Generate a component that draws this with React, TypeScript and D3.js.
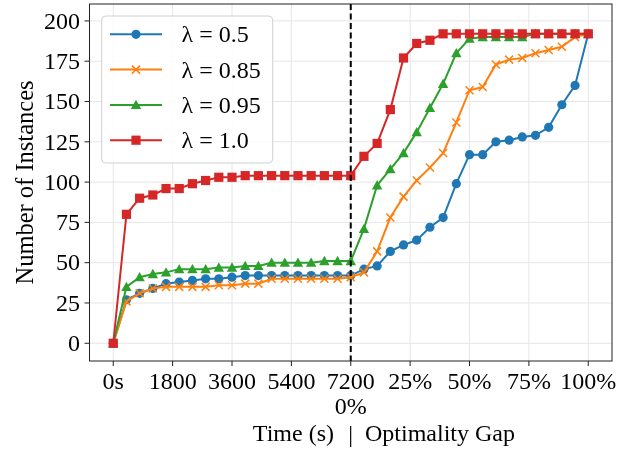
import React from "react";
import * as d3 from "d3";

const xTickPos = [0, 4.5, 9, 13.5, 18, 22.5, 27, 31.5, 36];
const xTickLabels = ["0s", "1800", "3600", "5400", "7200\n0%", "25%", "50%", "75%", "100%"];
const yTicks = [0, 25, 50, 75, 100, 125, 150, 175, 200];
const switchIndex = 18;

const blue = [0, 27, 31, 34, 37, 38, 39, 40, 40, 41, 42, 42, 42, 42, 42, 42, 42, 42, 42,
  46, 48, 57, 61, 64, 72, 78, 99, 117, 117, 125, 126, 128, 129, 134, 148, 160, 192];
const orange = [0, 26, 31, 34, 35, 35, 35, 35, 36, 36, 37, 37, 40, 40, 40, 40, 40, 40, 41,
  44, 57, 78, 91, 101, 109, 118, 137, 157, 159, 173, 176, 177, 180, 182, 184, 190, 192];
const green = [0, 35, 41, 43, 44, 46, 46, 46, 47, 47, 48, 48, 50, 50, 50, 50, 51, 51, 51,
  71, 98, 108, 118, 131, 146, 161, 180, 189, 190, 190, 190, 190, 192, 192, 192, 192, 192];
const red = [0, 80, 90, 92, 96, 96, 99, 101, 103, 103, 104, 104, 104, 104, 104, 104, 104, 104, 104,
  116, 124, 145, 177, 186, 188, 192, 192, 192, 192, 192, 192, 192, 192, 192, 192, 192, 192];

const seriesLabels = ["λ = 0.5", "λ = 0.85", "λ = 0.95", "λ = 1.0"];
const seriesColors = ["#1f77b4", "#ff7f0e", "#2ca02c", "#d62728"];
const seriesMarkers = ["circle", "x", "triangle", "square"];
const seriesValues = [blue, orange, green, red];

const W = 635, H = 451;
const L = 89.5, R = 612, T = 4, B = 361;
const FONT = "Liberation Serif, Times New Roman, serif";
const FS = 24;
const txt: React.CSSProperties = { fontFamily: FONT, fontSize: FS };

function Marker({ kind, cx, cy, color }: { kind: string; cx: number; cy: number; color: string }) {
  if (kind === "circle") return <circle cx={cx} cy={cy} r={4.6} fill={color} />;
  if (kind === "square") return <rect x={cx - 4.6} y={cy - 4.6} width={9.2} height={9.2} fill={color} />;
  if (kind === "triangle") {
    const s = 5.2;
    return <path d={`M${cx},${cy - s} L${cx + s},${cy + s * 0.8} L${cx - s},${cy + s * 0.8} Z`} fill={color} />;
  }
  const s = 4;
  return (
    <path d={`M${cx - s},${cy - s} L${cx + s},${cy + s} M${cx - s},${cy + s} L${cx + s},${cy - s}`}
      stroke={color} strokeWidth={1.5} fill="none" />
  );
}

export default function App() {
  const x = d3.scaleLinear().domain([-1.8, 37.8]).range([L, R]);
  const y = d3.scaleLinear().domain([-11, 210.5]).range([B, T]);
  const line = d3.line<number>().x((_, i) => x(i)).y((d) => y(d));

  return (
    <svg width={W} height={H}
      style={{ position: "absolute", left: 0, top: 0, background: "#fff", willChange: "transform" }}>
      <rect x={0} y={0} width={W} height={H} fill="#fff" />
      {yTicks.map((t) => (
        <line key={"gy" + t} x1={L} x2={R} y1={y(t)} y2={y(t)} stroke="#e6e6e6" strokeWidth={1} />
      ))}
      {xTickPos.map((t) => (
        <line key={"gx" + t} x1={x(t)} x2={x(t)} y1={T} y2={B} stroke="#e6e6e6" strokeWidth={1} />
      ))}
      {seriesValues.map((vals, si) => (
        <g key={"s" + si}>
          <path d={line(vals) || ""} fill="none" stroke={seriesColors[si]} strokeWidth={2} />
          {vals.map((v, i) => (
            <Marker key={i} kind={seriesMarkers[si]} cx={x(i)} cy={y(v)} color={seriesColors[si]} />
          ))}
        </g>
      ))}
      <line x1={x(switchIndex)} x2={x(switchIndex)} y1={T} y2={B} stroke="#000" strokeWidth={2}
        strokeDasharray="6,3.5" />
      <rect x={L} y={T} width={R - L} height={B - T} fill="none" stroke="#222" strokeWidth={1} />
      {yTicks.map((t) => (
        <g key={"yt" + t}>
          <line x1={L - 5} x2={L} y1={y(t)} y2={y(t)} stroke="#222" strokeWidth={1} />
          <text x={L - 9.5} y={y(t) + 7.8} textAnchor="end" style={txt} fill="#000">{t}</text>
        </g>
      ))}
      {xTickPos.map((t, i) => (
        <g key={"xt" + t}>
          <line x1={x(t)} x2={x(t)} y1={B} y2={B + 5} stroke="#222" strokeWidth={1} />
          {xTickLabels[i].split("\n").map((s, j) => (
            <text key={j} x={x(t)} y={388.5 + j * 25} textAnchor="middle" style={txt} fill="#000">{s}</text>
          ))}
        </g>
      ))}
      <text x={334} y={441} textAnchor="end" style={txt} fill="#000">Time (s)</text>
      <text x={x(switchIndex)} y={442} textAnchor="middle" style={txt} fill="#000">|</text>
      <text x={365} y={441} textAnchor="start" style={txt} fill="#000">Optimality Gap</text>
      <text transform={`translate(33,${(T + B) / 2}) rotate(-90)`} textAnchor="middle"
        style={{ ...txt, fontSize: 24.5 }} fill="#000">
        Number of Instances
      </text>
      <rect x={101.7} y={16} width={171} height={147} rx={4} fill="#fff" fillOpacity={0.85}
        stroke="#d0d0d0" strokeWidth={1} />
      {seriesLabels.map((lab, i) => {
        const cy = 34.3 + i * 35.3;
        return (
          <g key={"lg" + i}>
            <line x1={110} x2={162} y1={cy} y2={cy} stroke={seriesColors[i]} strokeWidth={2} />
            <Marker kind={seriesMarkers[i]} cx={136} cy={cy} color={seriesColors[i]} />
            <text x={181.5} y={cy + 8} style={txt} fill="#000">{lab}</text>
          </g>
        );
      })}
    </svg>
  );
}
